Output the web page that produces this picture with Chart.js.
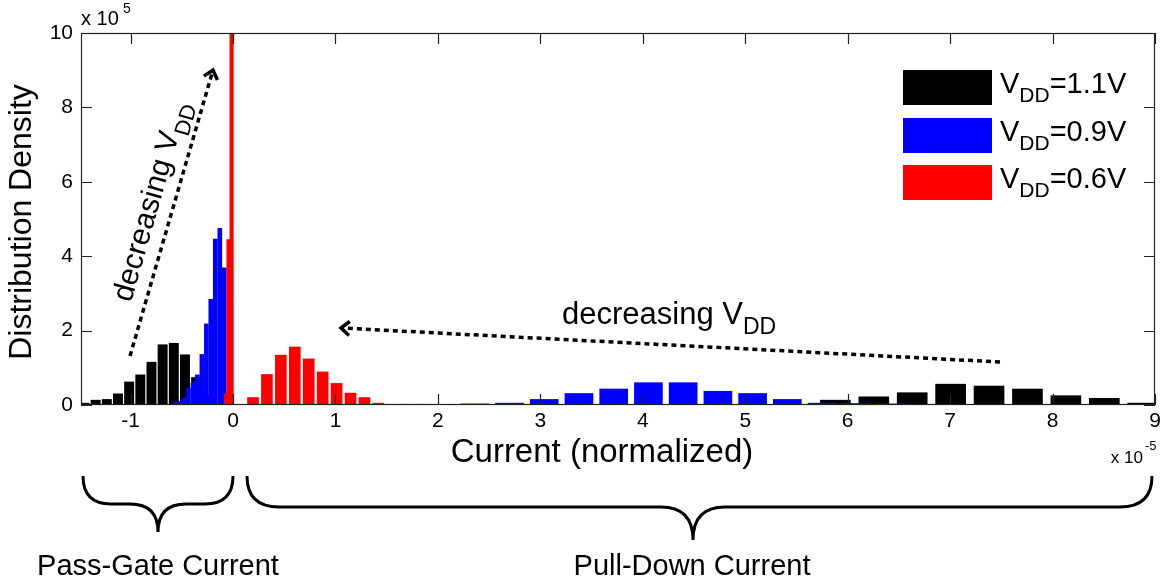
<!DOCTYPE html>
<html>
<head>
<meta charset="utf-8">
<script src="https://cdn.jsdelivr.net/npm/chart.js"></script>
<style>
  html, body { margin: 0; padding: 0; background: #fff; }
</style>
</head>
<body>
<canvas id="myChart" width="1166" height="586"></canvas>
<script>
const FONT = "'Liberation Sans', Arial, sans-serif";

// axis ticks
const xTicks = [-1, 0, 1, 2, 3, 4, 5, 6, 7, 8, 9];
const yTicks = [0, 2, 4, 6, 8, 10];

const seriesNames = ['VDD=1.1V', 'VDD=0.9V', 'VDD=0.6V'];
const seriesColors = ['#000000', '#0000ff', '#ff0000'];

// pass-gate current (negative side), density in units of 1e5, current in 1e-5
const pgBlackX = [-1.45, -1.341, -1.232, -1.123, -1.014, -0.905, -0.796, -0.687, -0.578, -0.469, -0.36, -0.251];
const pgBlackY = [0.05, 0.13, 0.15, 0.30, 0.62, 0.81, 1.15, 1.62, 1.66, 1.35, 0.74, 0.26];
const pgBlueX = [-0.566, -0.522, -0.479, -0.435, -0.391, -0.348, -0.304, -0.260, -0.217, -0.173, -0.129, -0.086];
const pgBlueY = [0.07, 0.10, 0.18, 0.45, 0.60, 0.81, 1.36, 2.18, 2.84, 4.46, 4.75, 3.69];
const pgRedX = [-0.07, -0.044, -0.014];
const pgRedY = [0.30, 4.45, 11.5];

// pull-down current (positive side)
const pdRedX = [0.195, 0.331, 0.467, 0.603, 0.739, 0.875, 1.011, 1.147, 1.283, 1.419, 1.555, 1.691, 1.827];
const pdRedY = [0.20, 0.82, 1.34, 1.56, 1.24, 0.89, 0.58, 0.32, 0.20, 0.05, 0.02, 0.02, 0.02];
const pdBlueX = [2.36, 2.699, 3.038, 3.377, 3.716, 4.055, 4.394, 4.733, 5.072, 5.411, 5.75, 6.089, 6.428];
const pdBlueY = [0.03, 0.05, 0.15, 0.31, 0.43, 0.60, 0.60, 0.37, 0.31, 0.15, 0.05, 0.04, 0.03];
const pdBlackX = [5.88, 6.255, 6.63, 7.005, 7.38, 7.755, 8.13, 8.505, 8.88];
const pdBlackY = [0.13, 0.22, 0.33, 0.56, 0.51, 0.43, 0.25, 0.18, 0.05];

function pts(xs, ys) {
  return xs.map((x, i) => ({x: x, y: ys[i]}));
}

// text with a subscript part, e.g. V + DD + =1.1V
function subText(ctx, x, y, a, b, c, size, subSize) {
  ctx.font = size + 'px ' + FONT;
  ctx.fillText(a, x, y);
  x += ctx.measureText(a).width;
  ctx.font = subSize + 'px ' + FONT;
  ctx.fillText(b, x, y + subSize * 0.42);
  x += ctx.measureText(b).width;
  if (c) {
    ctx.font = size + 'px ' + FONT;
    ctx.fillText(c, x, y);
  }
}

function dashedArrow(ctx, x1, y1, x2, y2) {
  ctx.lineWidth = 3.5;
  ctx.setLineDash([5, 4]);
  ctx.beginPath();
  ctx.moveTo(x1, y1);
  ctx.lineTo(x2, y2);
  ctx.stroke();
  ctx.setLineDash([]);
  const ang = Math.atan2(y2 - y1, x2 - x1), h = 11;
  ctx.beginPath();
  ctx.moveTo(x2 - h * Math.cos(ang - 0.7), y2 - h * Math.sin(ang - 0.7));
  ctx.lineTo(x2, y2);
  ctx.lineTo(x2 - h * Math.cos(ang + 0.7), y2 - h * Math.sin(ang + 0.7));
  ctx.stroke();
}

function brace(ctx, x1, x2, xm, yTop, yMid, yTip, r) {
  ctx.lineWidth = 3;
  ctx.beginPath();
  ctx.moveTo(x1, yTop);
  ctx.quadraticCurveTo(x1, yMid, x1 + r, yMid);
  ctx.lineTo(xm - r, yMid);
  ctx.quadraticCurveTo(xm, yMid, xm, yTip);
  ctx.quadraticCurveTo(xm, yMid, xm + r, yMid);
  ctx.lineTo(x2 - r, yMid);
  ctx.quadraticCurveTo(x2, yMid, x2, yTop);
  ctx.stroke();
}

const extras = {
  id: 'extras',
  afterDraw(chart) {
    const ctx = chart.ctx, a = chart.chartArea;
    const xs = chart.scales.x, ys = chart.scales.y;
    ctx.save();

    // box and inward ticks
    ctx.strokeStyle = '#222';
    ctx.lineWidth = 1.2;
    ctx.strokeRect(a.left + 0.5, a.top + 0.5, a.right - a.left - 1, a.bottom - a.top - 1);
    ctx.beginPath();
    xTicks.forEach(v => {
      const px = Math.round(xs.getPixelForValue(v)) + 0.5;
      ctx.moveTo(px, a.bottom); ctx.lineTo(px, a.bottom - 11);
      ctx.moveTo(px, a.top); ctx.lineTo(px, a.top + 11);
    });
    yTicks.forEach(v => {
      const py = Math.round(ys.getPixelForValue(v)) + 0.5;
      ctx.moveTo(a.left, py); ctx.lineTo(a.left + 11, py);
      ctx.moveTo(a.right, py); ctx.lineTo(a.right - 11, py);
    });
    ctx.stroke();

    ctx.fillStyle = '#000';
    ctx.strokeStyle = '#000';
    ctx.textBaseline = 'alphabetic';
    ctx.textAlign = 'left';

    // exponent labels
    ctx.font = '20px ' + FONT;
    ctx.fillText('x 10', 81, 25);
    ctx.font = '14px ' + FONT;
    ctx.fillText('5', 123, 13);
    ctx.font = '17px ' + FONT;
    ctx.textAlign = 'right';
    ctx.fillText('x 10', 1143, 463);
    ctx.textAlign = 'left';
    ctx.font = '13px ' + FONT;
    ctx.fillText('-5', 1145, 450);

    // axis titles
    ctx.font = '33px ' + FONT;
    ctx.textAlign = 'center';
    ctx.textBaseline = 'middle';
    ctx.fillText('Current (normalized)', 602, 453);
    ctx.save();
    ctx.translate(22, 222);
    ctx.rotate(-Math.PI / 2);
    ctx.font = '32px ' + FONT;
    ctx.fillText('Distribution Density', 0, 0);
    ctx.restore();
    ctx.textAlign = 'left';
    ctx.textBaseline = 'alphabetic';

    // legend
    const rows = [93, 141, 188];
    seriesColors.forEach((c, i) => {
      ctx.fillStyle = c;
      ctx.fillRect(903, rows[i] - 23, 89, 35);
      ctx.fillStyle = '#000';
      const parts = seriesNames[i].split('DD');
      subText(ctx, 1000, rows[i], parts[0], 'DD', parts[1], 29, 21);
    });

    // annotations
    dashedArrow(ctx, 130, 356, 213, 70);
    ctx.save();
    ctx.translate(131, 303);
    ctx.rotate(-74 * Math.PI / 180);
    subText(ctx, 0, 0, 'decreasing V', 'DD', '', 30, 22);
    ctx.restore();

    dashedArrow(ctx, 1000, 362, 341, 328);
    subText(ctx, 562, 324, 'decreasing V', 'DD', '', 31, 23);

    // braces and region labels
    brace(ctx, 83, 233, 158, 476, 504, 532, 28);
    brace(ctx, 247, 1152, 693, 476, 507, 540, 32);
    ctx.font = '29px ' + FONT;
    ctx.textAlign = 'center';
    ctx.fillText('Pass-Gate Current', 158, 575);
    ctx.fillText('Pull-Down Current', 692, 575);

    ctx.restore();
  }
};

Chart.defaults.font.family = FONT;
Chart.defaults.color = '#000';

const myChart = new Chart(document.getElementById('myChart'), {
  type: 'bar',
  data: {
    datasets: [
      {label: seriesNames[0], data: pts(pgBlackX, pgBlackY), backgroundColor: seriesColors[0], barThickness: 9.3, order: 3},
      {label: seriesNames[0], data: pts(pdBlackX, pdBlackY), backgroundColor: seriesColors[0], barThickness: 30, order: 3},
      {label: seriesNames[1], data: pts(pgBlueX, pgBlueY), backgroundColor: seriesColors[1], barThickness: 4, order: 2},
      {label: seriesNames[1], data: pts(pdBlueX, pdBlueY), backgroundColor: seriesColors[1], barThickness: 28, order: 2},
      {label: seriesNames[2], data: pts(pgRedX, pgRedY), backgroundColor: seriesColors[2], barThickness: 3.5, order: 1},
      {label: seriesNames[2], data: pts(pdRedX, pdRedY), backgroundColor: seriesColors[2], barThickness: 11, order: 1}
    ]
  },
  options: {
    responsive: false,
    animation: false,
    datasets: { bar: { grouped: false } },
    layout: { padding: {top: 33, right: 11, left: 0, bottom: 111} },
    plugins: {
      legend: { display: false },
      tooltip: { enabled: false }
    },
    scales: {
      x: {
        type: 'linear',
        min: -1.484,
        max: 9,
        offset: false,
        grid: { display: false, drawTicks: false, tickLength: 0 },
        border: { display: false },
        afterBuildTicks: s => { s.ticks = xTicks.map(v => ({value: v})); },
        afterFit: s => { s.height = 70; },
        ticks: { padding: 4, font: { size: 21 }, color: '#000' }
      },
      y: {
        min: 0,
        max: 10,
        grid: { display: false, drawTicks: false, tickLength: 0 },
        border: { display: false },
        afterBuildTicks: s => { s.ticks = yTicks.map(v => ({value: v})); },
        afterFit: s => { s.width = 81; },
        ticks: { padding: 8, font: { size: 21 }, color: '#000' }
      }
    }
  },
  plugins: [extras]
});
</script>
</body>
</html>
